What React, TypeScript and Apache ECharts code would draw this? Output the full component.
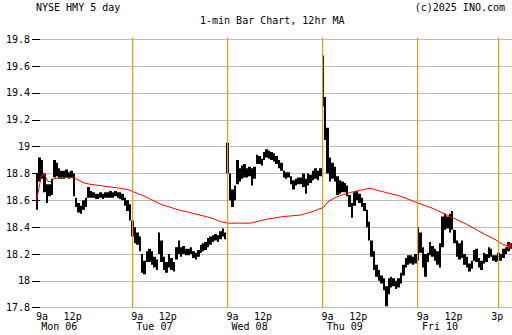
import React, { useEffect, useRef } from "react";
import * as echarts from "echarts";

// ---- tick / label data ----
const SESSION_MIN = 390; // 9:30 - 16:00
const X_MAX = 1950;
const openTicks = [0, 390, 780, 1170, 1560];
const openLabels = ["9a", "9a", "9a", "9a", "9a"];
const midTicks = [150, 540, 930, 1320, 1710, 1890];
const midLabels = ["12p", "12p", "12p", "12p", "12p", "3p"];
const dayTicks = [95, 485, 875, 1265, 1655];
const dayLabels = ["Mon 06", "Tue 07", "Wed 08", "Thu 09", "Fri 10"];
const dividerTimes = [390, 780, 1170, 1560, 1890];

// ---- 10-minute bins: [low, high] ----
const monBars = [
  [18.53, 18.8], [18.74, 18.92], [18.76, 18.9], [18.66, 18.8], [18.58, 18.72],
  [18.63, 18.72], [18.64, 18.76], [18.77, 18.9], [18.78, 18.88], [18.76, 18.84],
  [18.76, 18.82], [18.76, 18.82], [18.77, 18.83], [18.76, 18.81], [18.77, 18.82],
  [18.63, 18.8], [18.55, 18.62], [18.51, 18.58], [18.5, 18.56], [18.53, 18.6],
  [18.55, 18.62], [18.62, 18.7], [18.62, 18.67], [18.62, 18.66], [18.61, 18.65],
  [18.61, 18.65], [18.62, 18.66], [18.61, 18.65], [18.62, 18.66], [18.62, 18.66],
  [18.62, 18.67], [18.62, 18.66], [18.63, 18.67], [18.62, 18.66], [18.61, 18.66],
  [18.6, 18.65], [18.56, 18.62], [18.52, 18.6], [18.45, 18.57],
];
const tueBars = [
  [18.33, 18.45], [18.28, 18.4], [18.27, 18.36], [18.22, 18.33], [18.06, 18.2],
  [18.05, 18.15], [18.14, 18.22], [18.14, 18.24], [18.12, 18.22], [18.1, 18.18],
  [18.08, 18.16], [18.2, 18.36], [18.14, 18.3], [18.08, 18.18], [18.06, 18.14],
  [18.1, 18.2], [18.08, 18.17], [18.07, 18.14], [18.16, 18.25], [18.2, 18.3],
  [18.18, 18.25], [18.2, 18.26], [18.19, 18.24], [18.19, 18.24], [18.2, 18.25],
  [18.17, 18.22], [18.16, 18.21], [18.18, 18.23], [18.21, 18.27], [18.22, 18.28],
  [18.23, 18.29], [18.25, 18.32], [18.27, 18.33], [18.29, 18.34], [18.3, 18.35],
  [18.29, 18.34], [18.31, 18.37], [18.33, 18.39], [18.31, 18.36],
];
const wedBars = [
  [18.8, 19.03], [18.6, 18.8], [18.55, 18.68], [18.6, 18.71], [18.72, 18.9],
  [18.74, 18.84], [18.76, 18.86], [18.77, 18.87], [18.77, 18.84], [18.78, 18.85],
  [18.71, 18.84], [18.76, 18.85], [18.87, 18.94], [18.87, 18.93], [18.86, 18.91],
  [18.9, 18.96], [18.92, 18.98], [18.91, 18.97], [18.9, 18.96], [18.89, 18.95],
  [18.87, 18.93], [18.84, 18.9], [18.82, 18.88], [18.77, 18.82], [18.76, 18.81],
  [18.77, 18.81], [18.72, 18.78], [18.68, 18.75], [18.71, 18.76], [18.72, 18.77],
  [18.72, 18.77], [18.7, 18.8], [18.65, 18.76], [18.71, 18.8], [18.73, 18.79],
  [18.75, 18.82], [18.76, 18.84], [18.75, 18.82], [18.78, 18.84],
];
const thuBars = [
  [19.3, 19.68], [19.05, 19.37], [18.8, 19.14], [18.74, 18.92], [18.76, 18.88],
  [18.74, 18.85], [18.64, 18.78], [18.65, 18.75], [18.66, 18.74], [18.66, 18.73],
  [18.63, 18.71], [18.55, 18.64], [18.47, 18.58], [18.56, 18.66], [18.6, 18.67],
  [18.58, 18.65], [18.55, 18.62], [18.52, 18.58], [18.4, 18.53], [18.3, 18.44],
  [18.18, 18.3], [18.08, 18.22], [18.03, 18.12], [18.0, 18.08], [17.98, 18.04],
  [17.93, 18.02], [17.81, 17.96], [17.9, 18.02], [17.95, 18.03], [17.96, 18.02],
  [17.94, 18.0], [17.95, 18.02], [17.98, 18.06], [18.04, 18.12], [18.1, 18.17],
  [18.12, 18.19], [18.13, 18.19], [18.12, 18.18], [18.13, 18.2],
];
const friBars = [
  [18.15, 18.4], [18.21, 18.36], [18.1, 18.25], [18.03, 18.2], [18.14, 18.21],
  [18.19, 18.29], [18.18, 18.26], [18.15, 18.24], [18.12, 18.22], [18.1, 18.28],
  [18.25, 18.48], [18.38, 18.5], [18.39, 18.48], [18.36, 18.5], [18.38, 18.52],
  [18.28, 18.38], [18.18, 18.3], [18.16, 18.28], [18.17, 18.3], [18.12, 18.2],
  [18.1, 18.18], [18.07, 18.13], [18.09, 18.15], [18.15, 18.23], [18.14, 18.24],
  [18.1, 18.17], [18.08, 18.15], [18.13, 18.21], [18.14, 18.2], [18.17, 18.25],
  [18.18, 18.24], [18.15, 18.19], [18.14, 18.19], [18.15, 18.21], [18.15, 18.2],
  [18.17, 18.24], [18.2, 18.25], [18.22, 18.29], [18.24, 18.28],
];
const dayBars = [monBars, tueBars, wedBars, thuBars, friBars];
const BIN_MIN = 10;

// ---- 12hr moving average ----
const maTimes = [
  0, 4, 12, 22, 30, 40, 49, 60, 74, 94, 139, 164, 197, 221, 262, 303, 344, 377,
  445, 512, 582, 650, 717, 758, 787, 811, 880, 946, 1016, 1084, 1139, 1180, 1196,
  1237, 1290, 1368, 1430, 1495, 1565, 1626, 1696, 1766, 1831, 1889, 1913, 1938,
];
const maValues = [
  18.6, 18.62, 18.69, 18.78, 18.8, 18.77, 18.74, 18.74, 18.76, 18.77, 18.77, 18.76,
  18.73, 18.72, 18.71, 18.7, 18.69, 18.68, 18.63, 18.57, 18.53, 18.5, 18.47, 18.44,
  18.43, 18.43, 18.43, 18.46, 18.48, 18.49, 18.52, 18.55, 18.59, 18.63, 18.66, 18.69,
  18.66, 18.63, 18.58, 18.54, 18.48, 18.42, 18.355, 18.3, 18.27, 18.26,
];

const FONT = "DejaVu Sans Mono";
const ORANGE = "#e8a000";

export default function App() {
  const ref = useRef<HTMLDivElement>(null);
  useEffect(() => {
    if (!ref.current) return;
    const chart = echarts.init(ref.current, undefined, { renderer: "svg" });
    const barData: number[][] = [];
    dayBars.forEach((bars, d) =>
      bars.forEach(([lo, hi], k) => barData.push([d * SESSION_MIN + k * BIN_MIN + BIN_MIN / 2, lo, hi]))
    );
    const maData = maTimes.map((t, i) => [t, maValues[i]]);
    const last = maData[maData.length - 1];
    const txt = { fontFamily: FONT, fontSize: 10, color: "#000", fontWeight: "normal" as const };
    const baseX = {
      type: "value" as const,
      min: 0,
      max: X_MAX,
      position: "bottom" as const,
      axisLine: { show: false },
      axisTick: { show: false },
      splitLine: { show: false },
      minorSplitLine: { show: false },
    };
    chart.setOption({
      animation: false,
      backgroundColor: "#fff",
      title: [
        { text: "NYSE HMY 5 day", left: 36, top: 2, padding: 0, textStyle: txt },
        { text: "1-min Bar Chart, 12hr MA", left: 200, top: 15, padding: 0, textStyle: txt },
        { text: "(c)2025 INO.com", right: 7, top: 2, padding: 0, textStyle: txt },
      ],
      grid: { left: 36, right: 0, top: 39.3, bottom: 27.3, containLabel: false },
      xAxis: [
        { ...baseX, axisLabel: { show: false } },
        {
          ...baseX,
          axisLabel: {
            ...txt,
            customValues: openTicks,
            align: "left",
            margin: 4,
            formatter: (v: number) => openLabels[openTicks.indexOf(v)] ?? "",
          },
        },
        {
          ...baseX,
          axisLabel: {
            ...txt,
            customValues: midTicks,
            margin: 4,
            formatter: (v: number) => midLabels[midTicks.indexOf(v)] ?? "",
          },
        },
        {
          ...baseX,
          axisLabel: {
            ...txt,
            customValues: dayTicks,
            margin: 14,
            formatter: (v: number) => dayLabels[dayTicks.indexOf(v)] ?? "",
          },
        },
      ],
      yAxis: [
        {
          type: "value",
          min: 17.8,
          max: 19.8,
          interval: 0.2,
          position: "left",
          axisLine: { show: false },
          axisTick: { show: true, inside: true, length: 4, lineStyle: { color: "#000" } },
          splitLine: { show: true, lineStyle: { color: "#bdbdbd", width: 1 } },
          axisLabel: { ...txt, margin: 6 },
        },
        {
          type: "value",
          min: 17.8,
          max: 19.8,
          interval: 0.2,
          position: "right",
          axisLine: { show: false },
          axisTick: { show: true, inside: true, length: 4, lineStyle: { color: "#000" } },
          splitLine: { show: false },
          axisLabel: { show: false },
        },
      ],
      series: [
        {
          type: "custom",
          xAxisIndex: 0,
          yAxisIndex: 0,
          clip: true,
          encode: { x: 0, y: [1, 2] },
          data: barData,
          z: 3,
          renderItem: (_p: any, api: any) => {
            const t = api.value(0);
            const lo = api.value(1);
            const hi = api.value(2);
            const a = api.coord([t - BIN_MIN / 2, hi]);
            const b = api.coord([t + BIN_MIN / 2, lo]);
            const x0 = Math.round(a[0]);
            const x1 = Math.round(b[0]);
            return {
              type: "rect",
              shape: { x: x0, y: a[1], width: Math.max(1, x1 - x0), height: Math.max(1, b[1] - a[1]) },
              style: { fill: "#000" },
            };
          },
        },
        {
          type: "line",
          xAxisIndex: 0,
          yAxisIndex: 0,
          data: maData,
          symbol: "none",
          lineStyle: { color: "#ff0000", width: 1 },
          z: 5,
        },
        {
          type: "scatter",
          xAxisIndex: 0,
          yAxisIndex: 0,
          data: [last],
          symbol: "circle",
          symbolSize: 5,
          itemStyle: { color: "#ff0000" },
          z: 6,
        },
        {
          type: "custom",
          xAxisIndex: 0,
          yAxisIndex: 0,
          clip: false,
          encode: { x: 0, y: 1 },
          data: dividerTimes.map((t) => [t, 18.8]),
          z: 20,
          silent: true,
          renderItem: (params: any, api: any) => {
            const cs = params.coordSys;
            const x = Math.ceil(api.coord([api.value(0), 18.8])[0]);
            return {
              type: "rect",
              shape: { x: x, y: cs.y - 1.8, width: 1.2, height: cs.height + 1.8 },
              style: { fill: ORANGE },
              z2: 100,
            };
          },
        },
      ],
    });
    return () => chart.dispose();
  }, []);
  return (
    <div
      ref={ref}
      style={{ position: "fixed", left: 0, top: 0, width: 512, height: 335, background: "#fff" }}
    />
  );
}
